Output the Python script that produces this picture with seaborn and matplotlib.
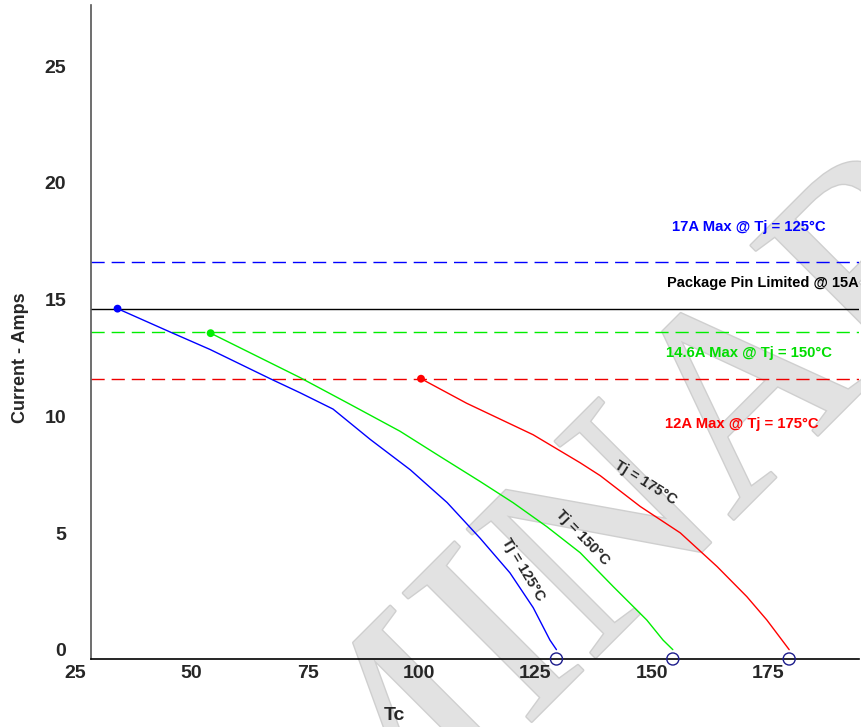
import numpy as np
import pandas as pd
import matplotlib
matplotlib.use('Agg')
import matplotlib.pyplot as plt
import matplotlib.patheffects as pe
from matplotlib.transforms import ScaledTranslation
import seaborn as sns

# Derating curves (Tc in degC, current in A)
tc_125 = [30.7, 42.0, 50.6, 63.5, 69.9, 77.0, 85.0, 93.6, 101.5, 108.6, 115.0, 120.0, 123.6, 125.0]
amps_125 = [15.0, 14.0, 13.25, 12.0, 11.4, 10.7, 9.4, 8.1, 6.7, 5.17, 3.69, 2.2, 0.81, 0.4]

tc_150 = [50.7, 69.9, 80.7, 91.4, 100.0, 108.6, 115.7, 122.9, 130.1, 137.2, 144.4, 147.9, 150.0]
amps_150 = [13.95, 12.05, 10.9, 9.75, 8.67, 7.6, 6.69, 5.67, 4.55, 3.1, 1.67, 0.81, 0.4]

tc_175 = [95.9, 105.7, 120.0, 130.1, 134.4, 143.0, 151.6, 159.5, 165.9, 170.2, 175.0]
amps_175 = [12.0, 10.95, 9.6, 8.4, 7.85, 6.53, 5.4, 3.96, 2.67, 1.67, 0.4]

end_tc = [125, 150, 175]
end_amps = [0, 0, 0]

limit_levels = [17, 15, 14, 12]
limit_labels = ['17A Max @ Tj = 125°C', 'Package Pin Limited @ 15A',
                '14.6A Max @ Tj = 150°C', '12A Max @ Tj = 175°C']
curve_labels = ['Tj = 125°C', 'Tj = 150°C', 'Tj = 175°C']

x_ticks = [25, 50, 75, 100, 125, 150, 175]
y_ticks = [0, 5, 10, 15, 20, 25]

sns.set_style('white')
plt.rcParams['font.family'] = ['Liberation Sans', 'DejaVu Sans']

fig = plt.figure(figsize=(8.61, 7.27), dpi=100)
ax = fig.add_axes([91 / 861, 68 / 727, 768 / 861, 654 / 727])
ax.set_facecolor('none')

# watermark
ax.text(0.432, -0.118, 'PRELIMINARY', transform=ax.transAxes, rotation=45,
        ha='center', va='center', fontsize=200, family='Liberation Serif',
        color='#e2e2e2', zorder=0, clip_on=False,
        path_effects=[pe.Stroke(linewidth=2, foreground='#cfcfcf'), pe.Normal()])

dash = (0, (9.5, 5))
ax.axhline(limit_levels[0], color='#0000ff', lw=1, ls=dash)
ax.axhline(limit_levels[1], color='black', lw=1)
ax.axhline(limit_levels[2], color='#00ee00', lw=1, ls=dash)
ax.axhline(limit_levels[3], color='#ee0000', lw=1, ls=dash)

curves = [(tc_125, amps_125, '#0000ff'), (tc_150, amps_150, '#00ee00'), (tc_175, amps_175, '#ff0000')]
for tc, amps, col in curves:
    df = pd.DataFrame({'Tc': tc, 'I': amps})
    sns.lineplot(data=df, x='Tc', y='I', color=col, lw=1, sort=False, estimator=None, ax=ax)
    sns.scatterplot(x=[tc[0]], y=[amps[0]], color=col, s=32, edgecolor='none', ax=ax, zorder=4)

sns.scatterplot(x=end_tc, y=end_amps, facecolor='none', edgecolor='#1c1c8c', s=75, linewidth=1,
                ax=ax, zorder=5, clip_on=False)

ax.set_xlim(25, 190)
ax.set_ylim(0, 28)
ax.set_xticks(x_ticks)
ax.set_yticks(y_ticks)

for s in ['top', 'right']:
    ax.spines[s].set_visible(False)
ax.spines['left'].set_color('#555555')
ax.spines['bottom'].set_color('black')
ax.spines['left'].set_linewidth(1.2)
ax.spines['bottom'].set_linewidth(1.2)

ax.tick_params(axis='x', direction='in', length=7.2, width=1, color='#444444', pad=4.5, labelsize=14)
ax.tick_params(axis='y', direction='inout', length=10, width=1, color='#444444', pad=13, labelsize=14)

for lbl in ax.get_xticklabels():
    lbl.set_fontweight('bold')
    lbl.set_ha('right')
    lbl.set_transform(lbl.get_transform() + ScaledTranslation(-0.05, 0, fig.dpi_scale_trans))
for lbl in ax.get_yticklabels():
    lbl.set_fontweight('bold')
    lbl.set_transform(lbl.get_transform() + ScaledTranslation(0, 0.09, fig.dpi_scale_trans))

ax.set_xlabel('Tc', fontsize=14, fontweight='bold', va='center')
ax.xaxis.set_label_coords(0.3945, -0.087)
ax.set_ylabel('Current - Amps', fontsize=13, fontweight='bold', va='center')
ax.yaxis.set_label_coords(-0.0924, 0.46)

tkw = dict(fontsize=10.7, fontweight='bold', va='center')
ax.text(166.4, 18.48, limit_labels[0], color='#0000ff', ha='center', **tkw)
ax.text(189.9, 16.08, limit_labels[1], color='black', ha='right', fontsize=10.5,
        fontweight='bold', va='center')
ax.text(166.4, 13.12, limit_labels[2], color='#00dd00', ha='center', **tkw)
ax.text(164.9, 10.08, limit_labels[3], color='#ff0000', ha='center', **tkw)

ckw = dict(fontsize=10.5, fontweight='bold', va='center', ha='center')
ax.text(117.8, 3.82, curve_labels[0], rotation=-59, **ckw)
ax.text(130.7, 5.19, curve_labels[1], rotation=-46, **ckw)
ax.text(144.1, 7.55, curve_labels[2], rotation=-32, **ckw)

fig.savefig('out.png', dpi=100)
